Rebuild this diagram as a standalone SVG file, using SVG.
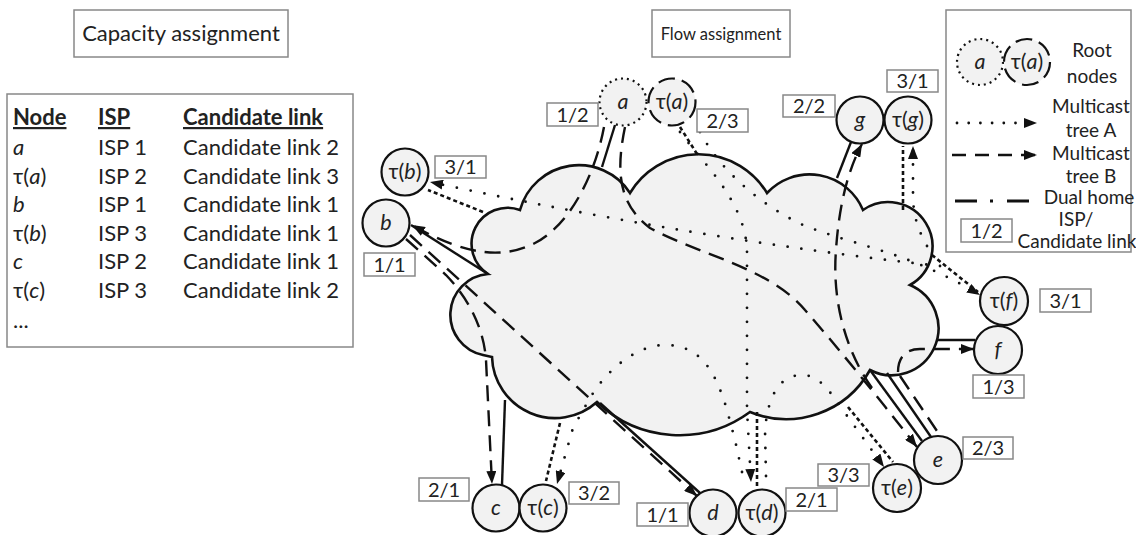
<svg xmlns="http://www.w3.org/2000/svg" width="1136" height="535" viewBox="0 0 1136 535">
<defs>
<marker id="ah" markerWidth="14" markerHeight="10" refX="13" refY="5" orient="auto" markerUnits="userSpaceOnUse">
<path d="M0,0 L13,5 L0,10 z" fill="#111"/>
</marker>
<style>
text{font-family:Lato,"Open Sans","Liberation Sans",sans-serif;fill:#222}
.t{font-size:22px}
.th{font-size:22px;font-weight:bold;text-decoration:underline}
.i{font-style:italic}
.lg{font-size:19px;text-anchor:middle}
.box{fill:#fff;stroke:#888;stroke-width:1.5}
.lb{font-size:20px;text-anchor:middle}
.nd{fill:#f2f2f2;stroke:#111;stroke-width:2.2}
.nl{font-size:21.5px;text-anchor:middle}
.cloud{fill:#f2f2f2;stroke:#111;stroke-width:2.6}
.sol{fill:none;stroke:#111;stroke-width:2.4}
.trb{fill:none;stroke:#111;stroke-width:2.4;stroke-dasharray:16 9}
.tra{fill:none;stroke:#111;stroke-width:2.8;stroke-dasharray:0 14;stroke-linecap:round}
.acc{fill:none;stroke:#111;stroke-width:2.6;stroke-dasharray:4 3}
</style>
</defs>
<rect width="1136" height="535" fill="#fff"/>

<g id="capacity-title">
<rect class="box" x="74" y="10" width="214" height="47"/>
<text class="t" x="181" y="41" text-anchor="middle">Capacity assignment</text>
</g>

<g id="capacity-table">
<rect class="box" x="7" y="94" width="346" height="253"/>
<text class="th" x="13" y="125">Node</text>
<text class="th" x="98" y="125">ISP</text>
<text class="th" x="183" y="125">Candidate link</text>
<text class="t" x="13" y="155"><tspan class="i">a</tspan></text>
<text class="t" x="98" y="155">ISP 1</text>
<text class="t" x="183" y="155">Candidate link 2</text>
<text class="t" x="13" y="183.5">τ(<tspan class="i">a</tspan>)</text>
<text class="t" x="98" y="183.5">ISP 2</text>
<text class="t" x="183" y="183.5">Candidate link 3</text>
<text class="t" x="13" y="212"><tspan class="i">b</tspan></text>
<text class="t" x="98" y="212">ISP 1</text>
<text class="t" x="183" y="212">Candidate link 1</text>
<text class="t" x="13" y="240.5">τ(<tspan class="i">b</tspan>)</text>
<text class="t" x="98" y="240.5">ISP 3</text>
<text class="t" x="183" y="240.5">Candidate link 1</text>
<text class="t" x="13" y="269"><tspan class="i">c</tspan></text>
<text class="t" x="98" y="269">ISP 2</text>
<text class="t" x="183" y="269">Candidate link 1</text>
<text class="t" x="13" y="297.5">τ(<tspan class="i">c</tspan>)</text>
<text class="t" x="98" y="297.5">ISP 3</text>
<text class="t" x="183" y="297.5">Candidate link 2</text>
<text class="t" x="13" y="328">...</text>
</g>

<g id="flow-title">
<rect class="box" x="652" y="10" width="138" height="47"/>
<text x="721" y="39.5" text-anchor="middle" font-size="16.5">Flow assignment</text>
</g>

<g id="legend">
<rect class="box" x="946" y="10" width="185" height="242"/>
<circle cx="980" cy="62" r="23" fill="#f2f2f2" stroke="#111" stroke-width="2.2" stroke-dasharray="2 4"/>
<circle cx="1027" cy="62" r="23" fill="#f2f2f2" stroke="#111" stroke-width="2.2" stroke-dasharray="17 7"/>
<text class="nl" x="980" y="69"><tspan class="i">a</tspan></text>
<text class="nl" x="1027" y="69">τ(<tspan class="i">a</tspan>)</text>
<text class="lg" x="1092" y="57">Root</text>
<text class="lg" x="1092" y="83">nodes</text>
<path class="tra" style="stroke-dasharray:0 11.7" d="M957,123 L1037,123" marker-end="url(#ah)"/>
<text class="lg" x="1091" y="113">Multicast</text>
<text class="lg" x="1091" y="137">tree A</text>
<path class="trb" style="stroke-dasharray:14 9" d="M952,155 L1037,155" marker-end="url(#ah)"/>
<text class="lg" x="1091" y="160">Multicast</text>
<text class="lg" x="1091" y="183">tree B</text>
<path fill="none" stroke="#111" stroke-width="3" d="M955,201 L977,201 M990,201 L993,201 M1007,201 L1029,201"/>
<text class="lg" x="1089" y="204">Dual home</text>
<text class="lg" x="1076" y="226">ISP/</text>
<rect class="box" x="961" y="219" width="51" height="23"/>
<text class="lb" x="986.5" y="237.5">1/2</text>
<text class="lg" x="1077" y="248">Candidate link</text>
</g>

<g id="cloud">
<path class="cloud" d="M488,274 A36,36 0 0 1 520,210 A61,61 0 0 1 630,193 A80,80 0 0 1 767,193 A58,58 0 0 1 863,210 A44.3,44.3 0 1 1 910,285 A47,47 0 1 1 870,370 A96,96 0 0 1 750,412 A119,119 0 0 1 597,402 A63,63 0 0 1 492,357 L483,355 A41,41 0 0 1 488,274 Z"/>
</g>

<g id="connectors">
<path class="sol" d="M615,125 L602,167"/>
<path class="sol" d="M488,274 L411,225"/>
<path class="sol" d="M505,400 L502,485"/>
<path class="sol" d="M600,403 L700,493"/>
<path class="sol" d="M870,370 L922,441"/>
<path class="sol" d="M887,373 L931,437"/>
<path class="sol" d="M937,340 L975,340"/>
<path class="sol" d="M837,178 L851,142"/>
<path class="trb" d="M900,376 L941,437"/>

<path class="trb" marker-end="url(#ah)" d="M604,127 C595,175 570,225 535,243 C505,258 470,258 412,225"/>
<path class="trb" marker-end="url(#ah)" d="M625,127 C615,175 620,205 650,228 C700,255 770,268 805,310 C840,350 880,400 917,447"/>
<path class="trb" marker-end="url(#ah)" d="M406,239 L446,275 C470,300 484,330 486,360 L492,484"/>
<path class="trb" marker-end="url(#ah)" d="M410,235 L697,496"/>
<path class="trb" marker-end="url(#ah)" d="M872,388 C845,350 832,300 836,250 C839,205 848,170 862,144"/>
<path class="trb" marker-end="url(#ah)" d="M898,372 C898,358 905,349 920,349 L974,349"/>

<path class="tra" marker-end="url(#ah)" d="M680,132 C700,160 745,200 747,250 L747,410 L751,482"/>
<path class="tra" marker-end="url(#ah)" d="M700,132 C720,170 760,205 803,225 C830,236 870,246 903,258 C930,268 955,280 980,295"/>
<path class="tra" marker-end="url(#ah)" d="M940,266 Q700,240 430,182"/>
<path class="tra" marker-end="url(#ah)" d="M927,246 C918,230 913,215 913,195 L913,146"/>
<path class="tra" marker-end="url(#ah)" d="M742,472 L735,440 L727,410 C715,370 700,345 665,345 C640,345 610,365 590,398 L573,428 L557,484"/>
<path class="tra" marker-end="url(#ah)" d="M766,476 L765,430 C768,395 780,375 802,375 C820,375 830,392 845,413 L884,467"/>

<path class="acc" d="M680,127 L697,154"/>
<path class="acc" d="M483,212 L428,190"/>
<path class="acc" d="M903,210 L903,146"/>
<path class="acc" d="M932,255 L978,292"/>
<path class="acc" d="M848,407 L893,462"/>
<path class="acc" d="M757,412 L757,489"/>
<path class="acc" d="M560,423 L546,481"/>
</g>

<g id="node-a">
<circle cx="623" cy="102" r="23.5" fill="#f2f2f2" stroke="#111" stroke-width="2.2" stroke-dasharray="2 4"/>
<text class="nl" x="623" y="109"><tspan class="i">a</tspan></text>
<rect class="box" x="547" y="103" width="51" height="23"/>
<text class="lb" x="572.5" y="121.5">1/2</text>
</g>
<g id="node-ta">
<circle cx="672" cy="102" r="23.5" fill="#f2f2f2" stroke="#111" stroke-width="2.2" stroke-dasharray="17 7"/>
<text class="nl" x="672" y="109">τ(<tspan class="i">a</tspan>)</text>
<rect class="box" x="697" y="109" width="51" height="23"/>
<text class="lb" x="722.5" y="127.5">2/3</text>
</g>
<g id="node-g">
<circle class="nd" cx="860" cy="120" r="23.5"/>
<text class="nl" x="860" y="127"><tspan class="i">g</tspan></text>
<rect class="box" x="783" y="95" width="52" height="22"/>
<text class="lb" x="809" y="113">2/2</text>
</g>
<g id="node-tg">
<circle class="nd" cx="908" cy="120" r="23.5"/>
<text class="nl" x="908" y="127">τ(<tspan class="i">g</tspan>)</text>
<rect class="box" x="887" y="70" width="51" height="22"/>
<text class="lb" x="912.5" y="88">3/1</text>
</g>
<g id="node-tb">
<circle class="nd" cx="405" cy="172" r="23.5"/>
<text class="nl" x="405" y="179">τ(<tspan class="i">b</tspan>)</text>
<rect class="box" x="435" y="156" width="51" height="22"/>
<text class="lb" x="460.5" y="174">3/1</text>
</g>
<g id="node-b">
<circle class="nd" cx="386" cy="223" r="23.5"/>
<text class="nl" x="386" y="230"><tspan class="i">b</tspan></text>
<rect class="box" x="364" y="253" width="51" height="23"/>
<text class="lb" x="389.5" y="271.5">1/1</text>
</g>
<g id="node-tf">
<circle class="nd" cx="1004" cy="301" r="24"/>
<text class="nl" x="1004" y="308">τ(<tspan class="i">f</tspan>)</text>
<rect class="box" x="1040" y="289" width="51" height="23"/>
<text class="lb" x="1065.5" y="307.5">3/1</text>
</g>
<g id="node-f">
<circle class="nd" cx="998" cy="350" r="24"/>
<text class="nl" x="998" y="357"><tspan class="i">f</tspan></text>
<rect class="box" x="973" y="375" width="51" height="23"/>
<text class="lb" x="998.5" y="393.5">1/3</text>
</g>
<g id="node-c">
<circle class="nd" cx="496" cy="508" r="23.5"/>
<text class="nl" x="496" y="515"><tspan class="i">c</tspan></text>
<rect class="box" x="419" y="478" width="50" height="23"/>
<text class="lb" x="444" y="496.5">2/1</text>
</g>
<g id="node-tc">
<circle class="nd" cx="543" cy="508" r="23.5"/>
<text class="nl" x="543" y="515">τ(<tspan class="i">c</tspan>)</text>
<rect class="box" x="569" y="482" width="50" height="22"/>
<text class="lb" x="594" y="500">3/2</text>
</g>
<g id="node-d">
<circle class="nd" cx="713" cy="513" r="23.5"/>
<text class="nl" x="713" y="520"><tspan class="i">d</tspan></text>
<rect class="box" x="637" y="503" width="51" height="23"/>
<text class="lb" x="662.5" y="521.5">1/1</text>
</g>
<g id="node-td">
<circle class="nd" cx="762" cy="513" r="23.5"/>
<text class="nl" x="762" y="520">τ(<tspan class="i">d</tspan>)</text>
<rect class="box" x="786" y="488" width="51" height="23"/>
<text class="lb" x="811.5" y="506.5">2/1</text>
</g>
<g id="node-te">
<circle class="nd" cx="897" cy="488" r="24"/>
<text class="nl" x="897" y="495">τ(<tspan class="i">e</tspan>)</text>
<rect class="box" x="818" y="464" width="51" height="22"/>
<text class="lb" x="843.5" y="482">3/3</text>
</g>
<g id="node-e">
<circle class="nd" cx="938" cy="460" r="24"/>
<text class="nl" x="938" y="467"><tspan class="i">e</tspan></text>
<rect class="box" x="963" y="437" width="50" height="22"/>
<text class="lb" x="988" y="455">2/3</text>
</g>
</svg>
